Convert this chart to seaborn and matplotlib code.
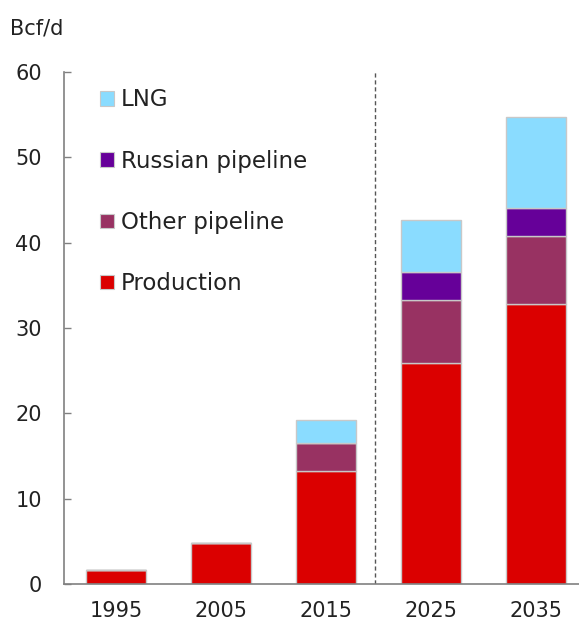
import matplotlib
matplotlib.use("Agg")
import matplotlib.pyplot as plt
import seaborn as sns
import pandas as pd
import numpy as np
from matplotlib.patches import Patch

years = ["1995", "2005", "2015", "2025", "2035"]
production = [1.6, 4.8, 13.2, 25.9, 32.8]
other_pipeline = [0.0, 0.0, 3.3, 7.4, 8.0]
russian_pipeline = [0.0, 0.0, 0.0, 3.3, 3.3]
lng = [0.0, 0.0, 2.7, 6.0, 10.6]

series_names = ["Production", "Other pipeline", "Russian pipeline", "LNG"]
series_values = [production, other_pipeline, russian_pipeline, lng]
colors = ["#DB0000", "#983262", "#660099", "#8ADCFF"]
y_ticks = [0, 10, 20, 30, 40, 50, 60]

sns.set_theme(style="white")
plt.rcParams['font.family'] = ['DejaVu Sans']

fig = plt.figure(figsize=(5.79, 6.27), dpi=100)
ax = fig.add_axes([64/579, 43/627, 1 - 64/579, (584-72)/627])

bottom = np.zeros(len(years))
for name, vals, col in zip(series_names, series_values, colors):
    df = pd.DataFrame({"year": years, "value": vals})
    sns.barplot(data=df, x="year", y="value", order=years, color=col,
                bottom=bottom, width=0.58, edgecolor="#C8C8C8", linewidth=1.0,
                saturation=1, ax=ax)
    bottom = bottom + np.array(vals)

ax.axvline(2.47, color="#555555", linestyle=(0, (3, 2)), linewidth=1.0, zorder=0)

ax.set_xlim(-0.495, 4.41)
ax.set_ylim(0, 60)
ax.set_yticks(y_ticks)
ax.set_xlabel("")
ax.set_ylabel("")
for s in ["top", "right"]:
    ax.spines[s].set_visible(False)
for s in ["left", "bottom"]:
    ax.spines[s].set_color("#808080")
    ax.spines[s].set_linewidth(1.2)
ax.tick_params(axis="y", direction="in", length=5, width=1.0, color="#808080",
               labelsize=15, labelcolor="#222222", pad=16, left=True)
ax.tick_params(axis="x", length=0, labelsize=15, labelcolor="#222222", pad=12)

handles = [Patch(facecolor=c, edgecolor="#C8C8C8", linewidth=0.8) for c in colors][::-1]
labels = series_names[::-1]
ax.legend(handles, labels, loc="upper left", bbox_to_anchor=(0.07, 0.968),
          frameon=False, fontsize=16.5, handlelength=0.6, handleheight=0.6,
          handletextpad=0.3, labelspacing=1.67, borderpad=0, borderaxespad=0,
          labelcolor="#222222")

fig.text(10/579, 1 - 28/627, "Bcf/d", fontsize=15, color="#222222",
         ha="left", va="center")

fig.savefig("out.png", dpi=100)
